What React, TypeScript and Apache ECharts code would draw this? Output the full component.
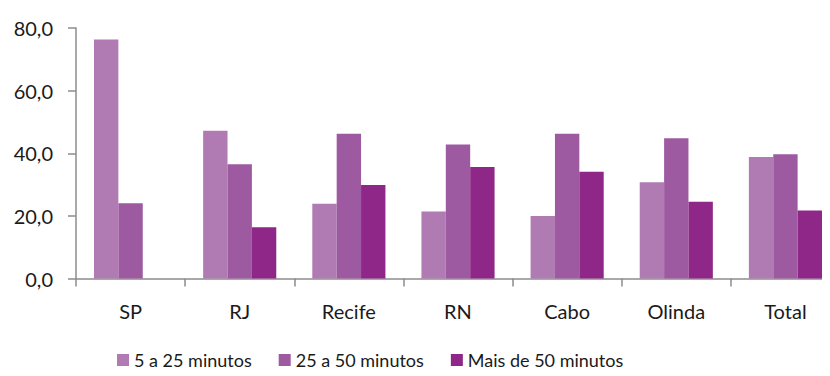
import React, { useEffect, useRef } from "react";
import * as echarts from "echarts";

// Travel-time shares (%) by city
const cities = ["SP", "RJ", "Recife", "RN", "Cabo", "Olinda", "Total"];
const seriesNames = ["5 a 25 minutos", "25 a 50 minutos", "Mais de 50 minutos"];
const short = [76.3, 47.2, 23.9, 21.4, 20.0, 30.7, 38.8];
const medium = [24.0, 36.5, 46.2, 42.8, 46.2, 44.8, 39.7];
const long = [0, 16.4, 29.9, 35.6, 34.1, 24.5, 21.7];
const yTicks = [0, 20, 40, 60, 80];

const colors = ["#B07AB3", "#9E5AA1", "#8E2787"];
const FONT = "Lato, 'Open Sans', sans-serif";

export default function App() {
  const ref = useRef<HTMLDivElement>(null);

  useEffect(() => {
    if (!ref.current) return;
    const chart = echarts.init(ref.current, undefined, { renderer: "svg" });
    const values = [short, medium, long];
    chart.setOption({
      animation: false,
      // the plot runs a little past the right edge of the visible frame
      grid: { left: 76, top: 28, width: 764, height: 250.5, containLabel: false },
      legend: {
        bottom: 7,
        left: 117,
        padding: 0,
        itemWidth: 12,
        itemHeight: 12,
        itemGap: 27,
        icon: "rect",
        textStyle: { fontFamily: FONT, fontSize: 18, color: "#1a1a1a" },
        data: seriesNames,
      },
      xAxis: {
        type: "category",
        data: cities,
        axisLine: { lineStyle: { color: "#8c8c8c", width: 1.5 } },
        axisTick: { show: true, length: 8, lineStyle: { color: "#8c8c8c", width: 1.5 } },
        axisLabel: { fontFamily: FONT, fontSize: 20, color: "#1a1a1a", margin: 22 },
      },
      yAxis: {
        type: "value",
        min: yTicks[0],
        max: yTicks[yTicks.length - 1],
        interval: 20,
        splitLine: { show: false },
        axisLine: { show: true, lineStyle: { color: "#8c8c8c", width: 1.5 } },
        axisTick: { show: true, length: 8, lineStyle: { color: "#8c8c8c", width: 1.5 } },
        axisLabel: {
          fontFamily: FONT,
          fontSize: 20,
          color: "#1a1a1a",
          margin: 23,
          formatter: (v: number) => v.toFixed(1).replace(".", ","),
        },
      },
      series: seriesNames.map((name, i) => ({
        name,
        type: "bar",
        data: values[i],
        barGap: "0%",
        barCategoryGap: "33%",
        itemStyle: { color: colors[i] },
      })),
    });
    return () => chart.dispose();
  }, []);

  return (
    <div style={{ width: 830, height: 376, margin: -8, overflow: "hidden" }}>
      <div ref={ref} style={{ width: 850, height: 376 }} />
    </div>
  );
}
